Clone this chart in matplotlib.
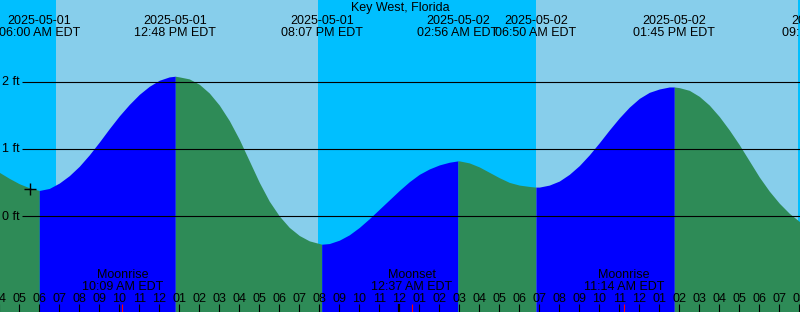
import numpy as np
import matplotlib.pyplot as plt

plt.rcParams['font.family'] = ['Liberation Sans', 'DejaVu Sans']

station = "Key West, Florida"

# hours after 2025-05-01 00:00 EDT, height in feet
tide_hours = [4.0, 4.5, 5.0, 5.5, 6.0, 6.5, 7.0, 7.5, 8.0, 8.5, 9.0, 9.5,
              10.0, 10.5, 11.0, 11.5, 12.0, 12.5, 12.8, 13.0, 13.5, 14.0,
              14.5, 15.0, 15.5, 16.0, 16.5, 17.0, 17.5, 18.0, 18.5, 19.0,
              19.5, 20.0, 20.12, 20.5, 21.0, 21.5, 22.0, 22.5, 23.0, 23.5,
              24.0, 24.5, 25.0, 25.5, 26.0, 26.5, 26.93, 27.0, 27.5, 28.0,
              28.5, 29.0, 29.5, 30.0, 30.5, 30.83, 31.0, 31.5, 32.0, 32.5,
              33.0, 33.5, 34.0, 34.5, 35.0, 35.5, 36.0, 36.5, 37.0, 37.5,
              37.75, 38.0, 38.5, 39.0, 39.5, 40.0, 40.5, 41.0, 41.5, 42.0,
              42.5, 43.0, 43.5, 44.0, 44.5]
tide_ft = [0.65, 0.56, 0.48, 0.42, 0.38, 0.41, 0.49, 0.60, 0.74, 0.91, 1.10, 1.30,
           1.49, 1.66, 1.81, 1.93, 2.02, 2.07, 2.08, 2.07, 2.04, 1.96,
           1.83, 1.65, 1.42, 1.14, 0.82, 0.50, 0.22, 0.00, -0.17, -0.29,
           -0.37, -0.41, -0.42, -0.41, -0.36, -0.28, -0.17, -0.04, 0.10, 0.24,
           0.38, 0.51, 0.62, 0.70, 0.76, 0.80, 0.82, 0.82, 0.79, 0.73,
           0.65, 0.57, 0.50, 0.46, 0.44, 0.43, 0.43, 0.46, 0.52, 0.62,
           0.75, 0.91, 1.09, 1.28, 1.46, 1.62, 1.75, 1.84, 1.89, 1.92,
           1.92, 1.91, 1.87, 1.78, 1.65, 1.48, 1.28, 1.06, 0.82, 0.58,
           0.37, 0.19, 0.04, -0.08, -0.17]

# high / low tides
event_hours = [6.0, 12.8, 20.12, 26.93, 30.83, 37.75, 45.18]
event_kind = ['low', 'high', 'low', 'high', 'low', 'high', 'low']
event_date = ['2025-05-01', '2025-05-01', '2025-05-01', '2025-05-02',
              '2025-05-02', '2025-05-02', '2025-05-02']
event_time = ['06:00 AM EDT', '12:48 PM EDT', '08:07 PM EDT', '02:56 AM EDT',
              '06:50 AM EDT', '01:45 PM EDT', '09:11 PM EDT']

# sunrise / sunset
sun_rise = [6.83, 30.83]
sun_set = [19.93, 43.92]

moon_hours = [10.15, 24.62, 35.23]
moon_event = ['Moonrise', 'Moonset', 'Moonrise']
moon_time = ['10:09 AM EDT', '12:37 AM EDT', '11:14 AM EDT']

now_hour, now_ft = 5.53, 0.40
grid_ft = [0, 1, 2]

W, H = 800, 312
x0, x1 = 4.035, 44.035
y0, y1 = (216 - H) / 67.2, 216 / 67.2


def ya(px):
    return 1 - px / H


def xd(px):
    return x0 + px / W * (x1 - x0)


fig = plt.figure(figsize=(8, 3.12), dpi=100)
ax = fig.add_axes([0, 0, 1, 1])
ax.set_xlim(x0, x1)
ax.set_ylim(y0, y1)
ax.axis('off')

night = '#00BFFF'
day = '#87CEEB'
ax.axvspan(x0, x1, color=night, lw=0, zorder=0)
for r, s in zip(sun_rise, sun_set):
    ax.axvspan(r, s, color=day, lw=0, zorder=0)

# flood (rising) in blue, ebb (falling) in green
t = np.array(tide_hours)
h = np.array(tide_ft)
bounds = [t[0]] + event_hours
colors = ['#2E8B57'] + ['#0000FF' if k == 'low' else '#2E8B57' for k in event_kind]
for a, b, c in zip(bounds[:-1], bounds[1:], colors):
    m = (t >= a) & (t <= b)
    if m.sum() > 1:
        ax.fill_between(t[m], h[m], y0, color=c, lw=0, zorder=1)

for g in grid_ft:
    ax.plot([xd(22), x1], [g, g], color='black', lw=0.8, zorder=2,
            solid_capstyle='butt')
    ax.text(xd(2), g - 3.6 / 67.2, f"{g} ft", fontsize=9, ha='left',
            va='baseline', zorder=3)

ax.plot(now_hour, now_ft, marker='+', ms=9, mew=1, color='black', zorder=3)

trans = ax.get_xaxis_transform()
ax.text(xd(400), ya(11), station, transform=trans,
        fontsize=9, ha='center', va='baseline', zorder=3)
for eh, d, tm in zip(event_hours, event_date, event_time):
    ax.text(eh, ya(24), d, transform=trans, fontsize=9, ha='center',
            va='baseline', zorder=3)
    ax.text(eh, ya(36), tm, transform=trans, fontsize=9, ha='center',
            va='baseline', zorder=3)

for mh, me, mt in zip(moon_hours, moon_event, moon_time):
    ax.text(mh, ya(278), me, transform=trans, fontsize=9, ha='center',
            va='baseline', zorder=3)
    ax.text(mh, ya(290), mt, transform=trans, fontsize=9, ha='center',
            va='baseline', zorder=3)

# hour ticks and labels
for hr in range(4, 45):
    lab = f"{(hr % 12) or 12:02d}"
    ax.text(hr, ya(302), lab, transform=trans, fontsize=9, ha='center',
            va='baseline', zorder=3)
    ax.vlines(hr, 0, 8 / H, transform=trans, color='black',
              lw=1.6 if hr == 24 else 0.8, zorder=3)
ax.vlines(moon_hours, 0, 8 / H, transform=trans, color='red', lw=0.8, zorder=4)

fig.savefig('out.png', dpi=100)
plt.close(fig)
